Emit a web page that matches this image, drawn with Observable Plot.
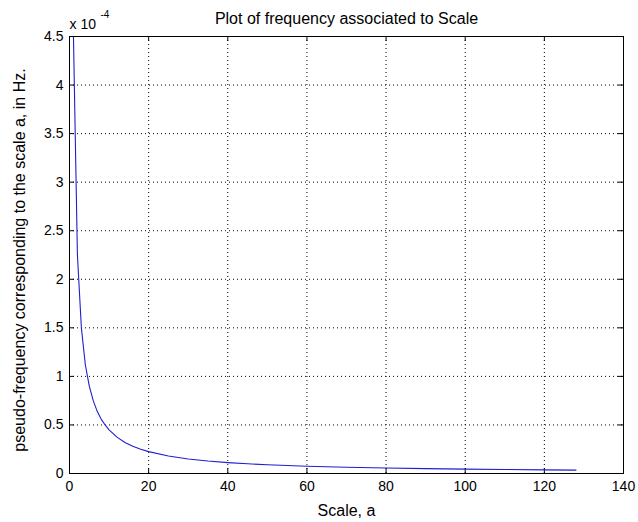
<!DOCTYPE html>
<html>
<head>
<meta charset="utf-8">
<script src="https://cdn.jsdelivr.net/npm/d3@7"></script>
<script src="https://cdn.jsdelivr.net/npm/@observablehq/plot@0.6"></script>
<style>
  html, body { margin: 0; padding: 0; background: #fff; }
</style>
</head>
<body>
<div id="chart"></div>
<script>
// Scale a (x) and pseudo-frequency in units of 1e-4 Hz (y)
const scales = [1, 2, 3, 4, 5, 6, 7, 8, 9, 10, 12, 14, 16, 18, 20, 25, 30, 35, 40, 45, 50, 60, 70, 80, 90, 100, 110, 120, 128];
const freq   = [4.5, 2.25, 1.5, 1.12, 0.9, 0.75, 0.64, 0.56, 0.5, 0.45, 0.375, 0.32, 0.28, 0.25, 0.225, 0.18, 0.15, 0.128, 0.112, 0.1, 0.09, 0.075, 0.064, 0.056, 0.05, 0.045, 0.041, 0.0375, 0.035];
const xTicks = [0, 20, 40, 60, 80, 100, 120, 140];
const yTicks = [0, 0.5, 1, 1.5, 2, 2.5, 3, 3.5, 4, 4.5];
const title = "Plot of frequency associated to Scale";
const xLabel = "Scale, a";
const yLabel = "pseudo-frequency corresponding to the scale a, in Hz.";
const expBase = "x 10";
const expPow = "-4";

const data = scales.map((a, i) => ({a, f: freq[i]}));

const W = 638, H = 522;
const mL = 69, mR = 15, mT = 36, mB = 49;
const pw = W - mL - mR, ph = H - mT - mB;
const labelStyle = {fontSize: 16, fill: "#000"};

const chart = Plot.plot({
  width: W,
  height: H,
  marginLeft: mL,
  marginRight: mR,
  marginTop: mT,
  marginBottom: mB,
  style: {fontFamily: "'Liberation Sans', Arial, Helvetica, sans-serif", fontSize: "14px", background: "#fff", color: "#000"},
  x: {domain: [0, 140], ticks: xTicks, label: null},
  y: {domain: [0, 4.5], ticks: yTicks, label: null},
  marks: [
    Plot.gridX(xTicks, {stroke: "#000", strokeOpacity: 1, strokeDasharray: "1,3"}),
    Plot.gridY(yTicks, {stroke: "#000", strokeOpacity: 1, strokeDasharray: "1,3"}),
    Plot.tickX(xTicks, {x: d => d, stroke: "#000", insetTop: ph - 5}),
    Plot.tickX(xTicks, {x: d => d, stroke: "#000", insetBottom: ph - 5}),
    Plot.tickY(yTicks, {y: d => d, stroke: "#000", insetRight: pw - 5}),
    Plot.tickY(yTicks, {y: d => d, stroke: "#000", insetLeft: pw - 5}),
    Plot.axisX(xTicks, {tickSize: 0, tickPadding: 8, fontSize: 14, label: null, style: {letterSpacing: "0.4px"}}),
    Plot.axisY(yTicks, {tickSize: 0, tickPadding: 6, fontSize: 14, label: null, tickFormat: d => String(d)}),
    Plot.line(data, {x: "a", y: "f", stroke: "#1f1fd0", strokeWidth: 1.1}),
    Plot.frame({stroke: "#000", strokeWidth: 1}),
    Plot.text([title], {frameAnchor: "top", dy: -13, lineAnchor: "bottom", ...labelStyle, style: {letterSpacing: "0.35px"}}),
    Plot.text([xLabel], {frameAnchor: "bottom", dy: 42, lineAnchor: "bottom", ...labelStyle, style: {letterSpacing: "0.5px"}}),
    Plot.text([yLabel], {frameAnchor: "left", dx: -45, dy: 5, rotate: -90, textAnchor: "middle", lineAnchor: "bottom", ...labelStyle, style: {letterSpacing: "0.4px"}}),
    Plot.text([expBase], {frameAnchor: "top-left", dx: 0, dy: -8, textAnchor: "start", lineAnchor: "bottom", fontSize: 14, fill: "#000"}),
    Plot.text([expPow], {frameAnchor: "top-left", dx: 31, dy: -19, textAnchor: "start", lineAnchor: "bottom", fontSize: 10, fill: "#000"})
  ]
});
document.getElementById("chart").appendChild(chart);
</script>
</body>
</html>
